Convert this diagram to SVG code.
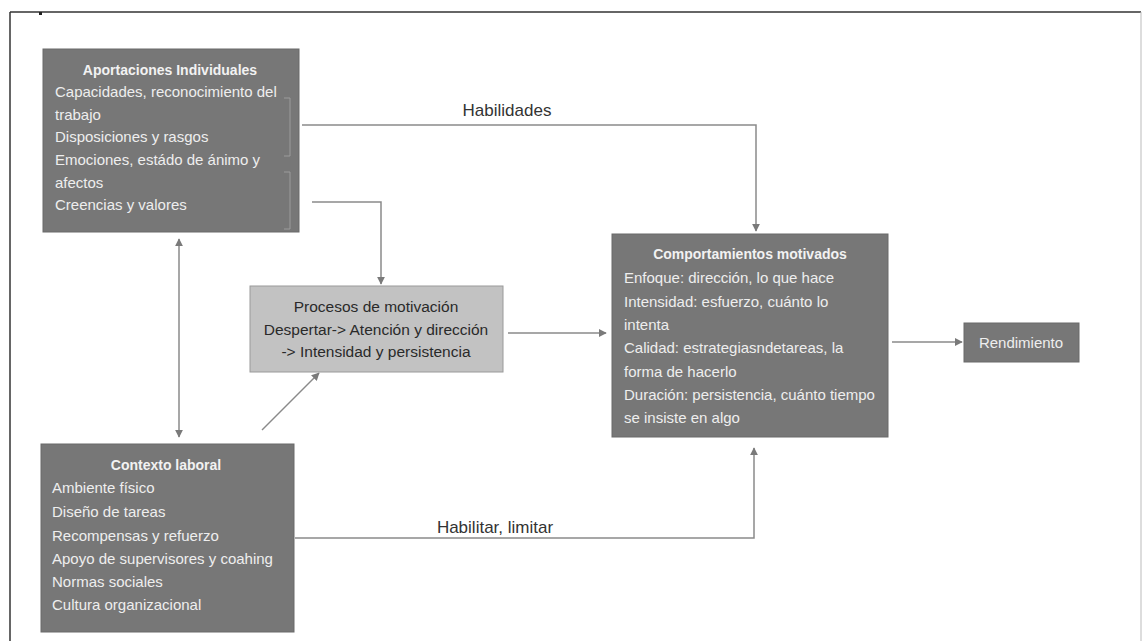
<svg xmlns="http://www.w3.org/2000/svg" width="1142" height="641" viewBox="0 0 1142 641">
<style>
.box{fill:#777777;stroke:#6a6a6a;stroke-width:1}
.lbox{fill:#c2c2c2;stroke:#9a9a9a;stroke-width:1}
.t{font-family:"Liberation Sans",Arial,sans-serif;font-size:15px;fill:#eeeeee}
.tb{font-family:"Liberation Sans",Arial,sans-serif;font-size:14px;font-weight:bold;fill:#f2f2f2}
.td{font-family:"Liberation Sans",Arial,sans-serif;font-size:15.5px;fill:#2a2a2a}
.lab{font-family:"Liberation Sans",Arial,sans-serif;font-size:17px;fill:#333333}
.c{fill:none;stroke:#8a8a8a;stroke-width:1.5}
.br{fill:none;stroke:#9c9c9c;stroke-width:1}
</style>
<defs>
<marker id="ah" viewBox="0 0 10 10" refX="9" refY="5" markerWidth="8" markerHeight="8" markerUnits="userSpaceOnUse" orient="auto-start-reverse">
<path d="M0,0 L10,5 L0,10 z" fill="#7a7a7a"/>
</marker>
</defs>
<rect x="0" y="0" width="1142" height="641" fill="#ffffff"/>
<g id="frame">
<line x1="10" y1="12" x2="1141" y2="12" stroke="#333" stroke-width="1.5"/>
<line x1="10" y1="12" x2="10" y2="641" stroke="#333" stroke-width="1.5"/>
<line x1="1141" y1="12" x2="1141" y2="641" stroke="#bbb" stroke-width="1"/>
<rect x="39" y="12" width="3" height="3" fill="#222"/>
</g>
<g id="connectors">
<polyline class="c" points="302,125 756,125 756,231" marker-end="url(#ah)"/>
<polyline class="c" points="312,202 381,202 381,284" marker-end="url(#ah)"/>
<line class="c" x1="508" y1="333" x2="606" y2="333" marker-end="url(#ah)"/>
<line class="c" x1="262" y1="430" x2="319" y2="373" marker-end="url(#ah)"/>
<line class="c" x1="179" y1="239" x2="179" y2="437" marker-start="url(#ah)" marker-end="url(#ah)"/>
<polyline class="c" points="295,538 754,538 754,448" marker-end="url(#ah)"/>
<line class="c" x1="892" y1="342" x2="962" y2="342" marker-end="url(#ah)"/>
<text class="lab" x="507" y="116" text-anchor="middle">Habilidades</text>
<text class="lab" x="495" y="533" text-anchor="middle">Habilitar, limitar</text>
</g>
<g id="aportaciones">
<rect class="box" x="43" y="49" width="256" height="183"/>
<polyline class="br" points="284,98 290,98 290,156 284,156"/>
<polyline class="br" points="284,172 290,172 290,229 284,229"/>
<text class="tb" x="170" y="75" text-anchor="middle">Aportaciones Individuales</text>
<text class="t" x="55" y="97">Capacidades, reconocimiento del</text>
<text class="t" x="55" y="120">trabajo</text>
<text class="t" x="55" y="142">Disposiciones y rasgos</text>
<text class="t" x="55" y="165">Emociones, estádo de ánimo y</text>
<text class="t" x="55" y="188">afectos</text>
<text class="t" x="55" y="210">Creencias y valores</text>
</g>
<g id="procesos">
<rect class="lbox" x="250" y="286" width="253" height="86"/>
<text class="td" x="376" y="312" text-anchor="middle">Procesos de motivación</text>
<text class="td" x="376" y="335" text-anchor="middle">Despertar-&gt; Atención y dirección</text>
<text class="td" x="376" y="357" text-anchor="middle">-&gt; Intensidad y persistencia</text>
</g>
<g id="contexto">
<rect class="box" x="41" y="444" width="253" height="188"/>
<text class="tb" x="166" y="470" text-anchor="middle">Contexto laboral</text>
<text class="t" x="52" y="493">Ambiente físico</text>
<text class="t" x="52" y="517">Diseño de tareas</text>
<text class="t" x="52" y="541">Recompensas y refuerzo</text>
<text class="t" x="52" y="564">Apoyo de supervisores y coahing</text>
<text class="t" x="52" y="587">Normas sociales</text>
<text class="t" x="52" y="610">Cultura organizacional</text>
</g>
<g id="comportamientos">
<rect class="box" x="612" y="234" width="276" height="203"/>
<text class="tb" x="750" y="259" text-anchor="middle">Comportamientos motivados</text>
<text class="t" x="624" y="283">Enfoque: dirección, lo que hace</text>
<text class="t" x="624" y="307">Intensidad: esfuerzo, cuánto lo</text>
<text class="t" x="624" y="330">intenta</text>
<text class="t" x="624" y="353">Calidad: estrategiasndetareas, la</text>
<text class="t" x="624" y="377">forma de hacerlo</text>
<text class="t" x="624" y="400">Duración: persistencia, cuánto tiempo</text>
<text class="t" x="624" y="423">se insiste en algo</text>
</g>
<g id="rendimiento">
<rect class="box" x="964" y="323" width="115" height="39"/>
<text class="t" x="1021" y="348" text-anchor="middle">Rendimiento</text>
</g>
</svg>
